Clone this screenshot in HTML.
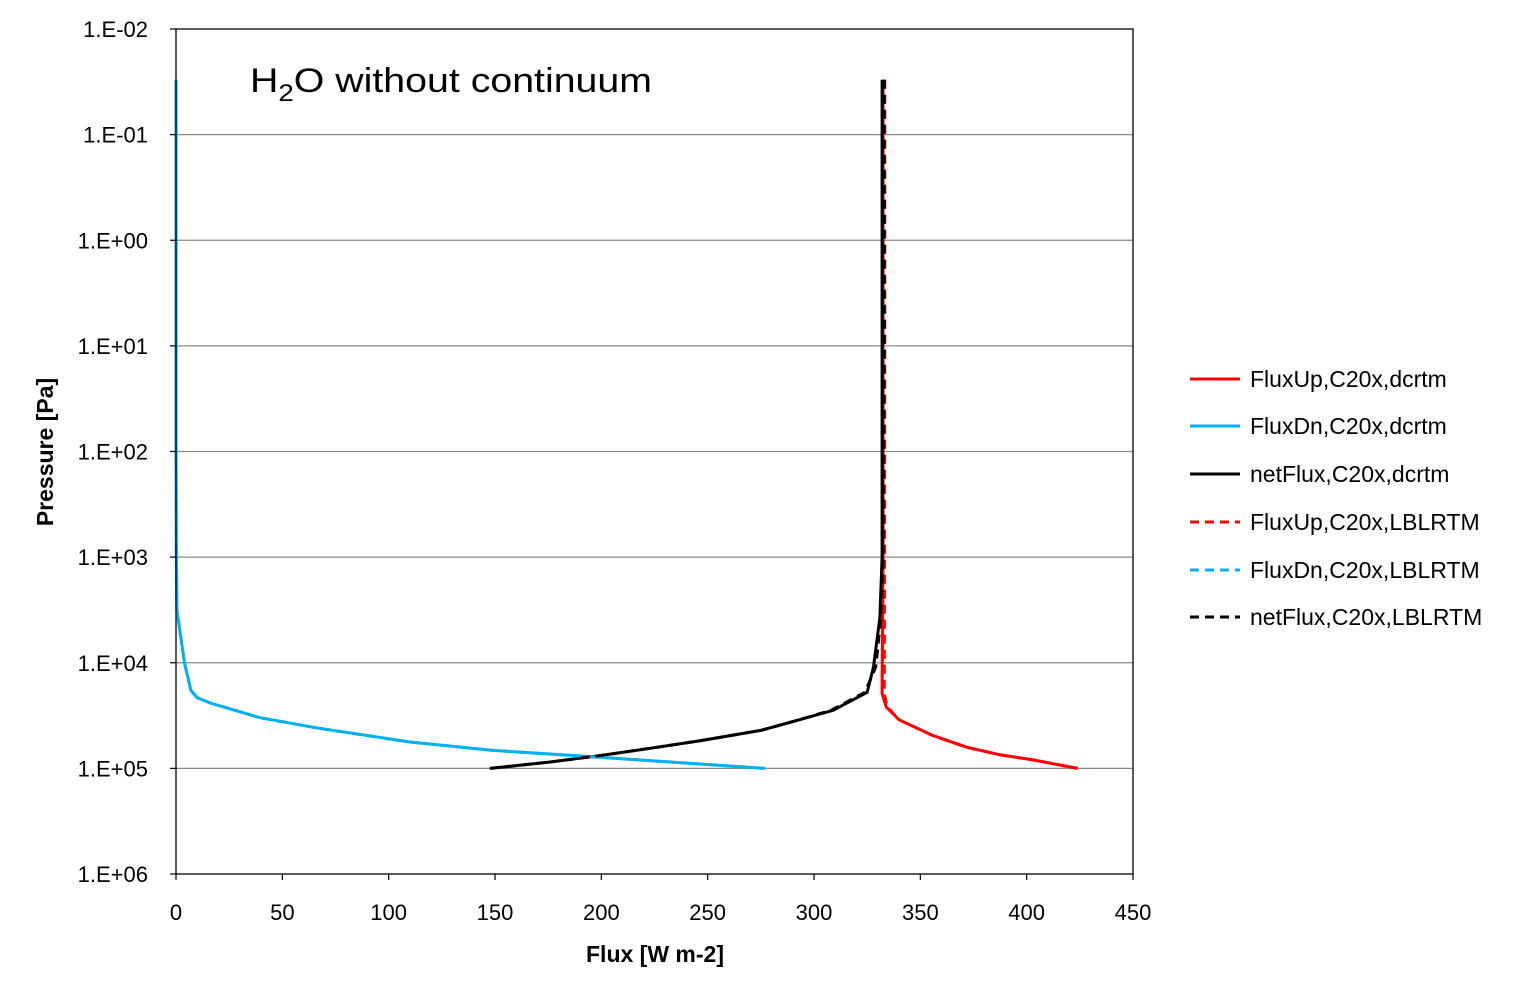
<!DOCTYPE html>
<html><head><meta charset="utf-8"><style>
body{margin:0;background:#fff;}
svg{display:block;font-family:"Liberation Sans",sans-serif;}
</style></head><body>
<svg id="chart" width="1526" height="997" viewBox="0 0 1526 997">
<rect x="0" y="0" width="1526" height="997" fill="#fff"/>
<g id="grid"></g>
<g id="series"></g>
<rect x="176" y="29" width="957" height="845" fill="none" stroke="#000" stroke-width="1.3"/>
<g id="axes"></g>
<text x="250" y="92" font-size="34" textLength="402" lengthAdjust="spacingAndGlyphs">H<tspan font-size="24" dy="9">2</tspan><tspan dy="-9">O without continuum</tspan></text>
<text x="655" y="962" font-size="23" font-weight="bold" text-anchor="middle">Flux [W m-2]</text>
<text x="53" y="452" font-size="23" font-weight="bold" text-anchor="middle" transform="rotate(-90 53 452)">Pressure [Pa]</text>
<g id="legend"></g>
</svg>
<script>
// log10(pressure) vs flux
const upLogP = [-1.52, 1, 3, 4.29, 4.42, 4.54, 4.69, 4.8, 4.87, 4.92, 5.0];
const upFlux = [332.5, 332.5, 332.5, 332, 334, 340, 356, 372, 387, 403, 424];
const dnLogP = [-1.52, 2, 3, 3.5, 4.0, 4.26, 4.33, 4.38, 4.52, 4.62, 4.75, 4.83, 4.89, 5.0];
const dnFlux = [0, 0, 0.2, 0.4, 4, 7, 9.9, 16, 39.5, 67, 110, 149, 196, 277];
const netLogP = [-1.52, 1, 3.0, 3.57, 4.04, 4.28, 4.45, 4.54, 4.64, 4.74, 4.81, 4.88, 4.94, 5.0];
const netFlux = [332, 332, 332, 331, 328, 325, 309, 293, 275, 246, 223, 199, 176, 147.6];
const upLblLogP = [-1.52, 1, 3, 4.29, 4.42, 4.54, 4.69, 4.8, 4.87, 4.92, 5.0];
const upLblFlux = [333.3, 333.3, 333.2, 333, 334.5, 340, 356, 372, 387, 403, 424];
const dnLblLogP = [-1.52, 2, 3, 3.5, 4.0, 4.26, 4.33, 4.38, 4.52, 4.62, 4.75, 4.83, 4.89, 5.0];
const dnLblFlux = [0, 0, 0.2, 0.4, 4, 7, 9.9, 16, 39.5, 67, 110, 149, 196, 277];
const netLblLogP = [-1.52, 1, 3.0, 3.57, 4.04, 4.28, 4.45, 4.54, 4.64, 4.74, 4.81, 4.88, 4.94, 5.0];
const netLblFlux = [333, 333, 332.5, 331.5, 329, 324, 308, 293, 275, 246, 223, 199, 176, 147.6];
const xTicks = [0, 50, 100, 150, 200, 250, 300, 350, 400, 450];
const yTicks = [-2, -1, 0, 1, 2, 3, 4, 5, 6];
const yTickLabels = ["1.E-02","1.E-01","1.E+00","1.E+01","1.E+02","1.E+03","1.E+04","1.E+05","1.E+06"];
const seriesNames = ["FluxUp,C20x,dcrtm","FluxDn,C20x,dcrtm","netFlux,C20x,dcrtm","FluxUp,C20x,LBLRTM","FluxDn,C20x,LBLRTM","netFlux,C20x,LBLRTM"];

const NS = "http://www.w3.org/2000/svg";
const X0 = 176, X1 = 1133, Y0 = 29, Y1 = 874;
const xs = v => X0 + (v - 0) / 450 * (X1 - X0);
const ys = lp => Y0 + (lp + 2) / 8 * (Y1 - Y0);
function mk(tag, attrs, parent) {
  const e = document.createElementNS(NS, tag);
  for (const k in attrs) e.setAttribute(k, attrs[k]);
  parent.appendChild(e); return e;
}
const grid = document.getElementById('grid');
const axes = document.getElementById('axes');
yTicks.forEach((t, i) => {
  const y = ys(t);
  if (i > 0 && i < yTicks.length - 1) {
    const g = mk('line', {x1: X0, x2: X1, y1: y, y2: y, stroke: '#888', 'stroke-width': 1.2}, grid);
    
    
  }
  const tk = mk('line', {x1: X0 - 6, x2: X0, y1: y, y2: y, stroke: '#000', 'stroke-width': 1.2}, axes);
  
  
  const tx = mk('text', {x: 148, y: y + 8, 'font-size': 22, 'text-anchor': 'end'}, axes);
  tx.textContent = yTickLabels[i];
  
  
});
xTicks.forEach(t => {
  const x = xs(t);
  const tk = mk('line', {x1: x, x2: x, y1: Y1, y2: Y1 + 6, stroke: '#000', 'stroke-width': 1.2}, axes);
  
  
  const tx = mk('text', {x: x, y: 920, 'font-size': 22, 'text-anchor': 'middle'}, axes);
  tx.textContent = String(t);
  
  
});
const ser = document.getElementById('series');
const defs = [
  [upFlux, upLogP, '#ff0000', null, 'series-fluxup-dcrtm'],
  [dnFlux, dnLogP, '#00b0f0', null, 'series-fluxdn-dcrtm'],
  [netFlux, netLogP, '#000000', null, 'series-netflux-dcrtm'],
  [upLblFlux, upLblLogP, '#ff0000', '9 6', 'series-fluxup-lblrtm'],
  [dnLblFlux, dnLblLogP, '#00b0f0', '9 6', 'series-fluxdn-lblrtm'],
  [netLblFlux, netLblLogP, '#000000', '9 6', 'series-netflux-lblrtm']
];
defs.forEach(d => {
  const pts = d[0].map((f, i) => xs(f).toFixed(1) + ',' + ys(d[1][i]).toFixed(1)).join(' ');
  const a = {points: pts, fill: 'none', stroke: d[2], 'stroke-width': 3, 'stroke-linejoin': 'round'};
  if (d[3]) a['stroke-dasharray'] = d[3];
  const p = mk('polyline', a, ser);
  
  
});
const leg = document.getElementById('legend');
const legY = [379, 426, 474, 522, 570, 617];
seriesNames.forEach((n, i) => {
  const d = defs[i];
  const g = mk('g', {}, leg);
  
  
  const a = {x1: 1190, x2: 1240, y1: legY[i], y2: legY[i], stroke: d[2], 'stroke-width': 3};
  if (d[3]) a['stroke-dasharray'] = '9 6';
  mk('line', a, g);
  const t = mk('text', {x: 1250, y: legY[i] + 8, 'font-size': 23}, g);
  t.textContent = n;
});
</script>
</body></html>
